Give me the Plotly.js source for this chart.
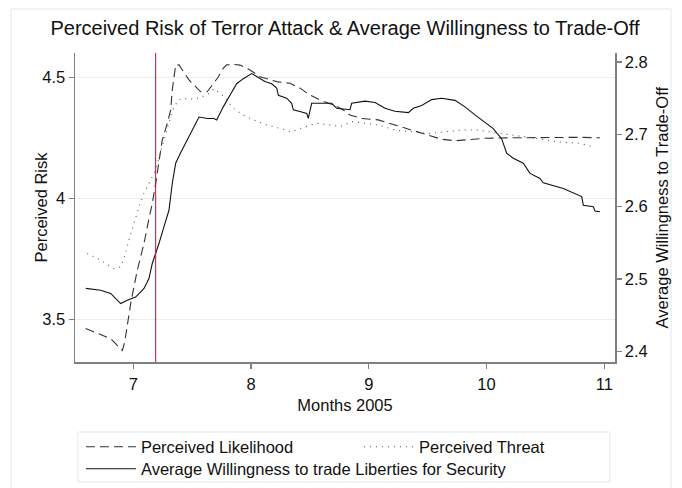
<!DOCTYPE html>
<html>
<head>
<meta charset="utf-8">
<script src="https://cdn.plot.ly/plotly-3.0.1.min.js"></script>
<style>html,body{margin:0;padding:0;background:#fff;}#chart{width:682px;height:488px;}</style>
</head>
<body>
<div id="chart"></div>
<script>
// Perceived Likelihood (left axis)
const likeX = [6.596, 6.681, 6.808, 6.864, 6.907, 6.927, 6.95, 6.978, 7.034, 7.091, 7.125, 7.161, 7.19, 7.218, 7.246, 7.289, 7.318, 7.331, 7.346, 7.36, 7.388, 7.416, 7.473, 7.53, 7.572, 7.628, 7.685, 7.72, 7.76, 7.793, 7.85, 7.906, 7.991, 8.076, 8.218, 8.331, 8.416, 8.5, 8.585, 8.699, 8.784, 8.84, 8.94, 9.081, 9.222, 9.364, 9.505, 9.619, 9.732, 9.874, 9.987, 10.2, 10.4, 10.6, 10.8, 10.963];
const likeY = [3.463, 3.445, 3.421, 3.394, 3.373, 3.407, 3.48, 3.566, 3.704, 3.814, 3.897, 3.979, 4.062, 4.158, 4.241, 4.31, 4.365, 4.448, 4.502, 4.551, 4.551, 4.53, 4.489, 4.461, 4.44, 4.44, 4.475, 4.50, 4.535, 4.551, 4.553, 4.55, 4.53, 4.502, 4.482, 4.475, 4.455, 4.427, 4.406, 4.386, 4.365, 4.344, 4.33, 4.324, 4.303, 4.282, 4.262, 4.244, 4.238, 4.244, 4.248, 4.25, 4.251, 4.252, 4.252, 4.25];

// Perceived Threat (left axis)
const threatX = [6.609, 6.723, 6.836, 6.893, 6.935, 6.963, 7.006, 7.048, 7.091, 7.133, 7.176, 7.22, 7.28, 7.33, 7.38, 7.416, 7.516, 7.628, 7.685, 7.75, 7.849, 7.934, 8.019, 8.133, 8.246, 8.345, 8.444, 8.558, 8.671, 8.755, 8.855, 8.968, 9.081, 9.222, 9.364, 9.505, 9.647, 9.789, 9.93, 10.114, 10.369, 10.596, 10.793, 10.907];
const threatY = [3.773, 3.745, 3.711, 3.717, 3.773, 3.828, 3.897, 3.965, 4.021, 4.062, 4.103, 4.17, 4.27, 4.36, 4.405, 4.413, 4.409, 4.427, 4.452, 4.43, 4.372, 4.344, 4.324, 4.303, 4.289, 4.275, 4.293, 4.31, 4.303, 4.296, 4.317, 4.31, 4.303, 4.282, 4.275, 4.268, 4.275, 4.282, 4.282, 4.268, 4.252, 4.234, 4.227, 4.213];

// Average Willingness to trade Liberties for Security (right axis)
const willX = [6.596, 6.723, 6.808, 6.893, 6.949, 7.02, 7.091, 7.133, 7.161, 7.19, 7.218, 7.26, 7.303, 7.331, 7.36, 7.4, 7.459, 7.516, 7.558, 7.628, 7.685, 7.708, 7.764, 7.821, 7.878, 7.934, 8.006, 8.048, 8.118, 8.175, 8.218, 8.232, 8.303, 8.345, 8.359, 8.43, 8.473, 8.486, 8.5, 8.515, 8.585, 8.685, 8.727, 8.784, 8.84, 8.855, 8.968, 9.053, 9.138, 9.222, 9.336, 9.378, 9.449, 9.534, 9.619, 9.732, 9.817, 9.902, 9.944, 10.057, 10.128, 10.171, 10.227, 10.312, 10.369, 10.454, 10.482, 10.596, 10.652, 10.808, 10.822, 10.907, 10.921, 10.963];
const willY = [2.487, 2.4844, 2.48, 2.466, 2.4706, 2.475, 2.487, 2.5006, 2.5214, 2.5352, 2.549, 2.572, 2.595, 2.632, 2.66, 2.674, 2.692, 2.71, 2.724, 2.722, 2.722, 2.72, 2.738, 2.754, 2.77, 2.777, 2.784, 2.78, 2.773, 2.77, 2.764, 2.754, 2.75, 2.743, 2.734, 2.731, 2.729, 2.722, 2.731, 2.743, 2.743, 2.743, 2.736, 2.735, 2.734, 2.743, 2.746, 2.744, 2.736, 2.732, 2.73, 2.736, 2.74, 2.748, 2.75, 2.747, 2.738, 2.727, 2.722, 2.708, 2.694, 2.674, 2.667, 2.66, 2.646, 2.639, 2.633, 2.627, 2.625, 2.614, 2.602, 2.6, 2.594, 2.593];

const eventMonth = 7.19; // July 7, 2005
const xTicks = [7, 8, 9, 10, 11];
const leftTicks = [3.5, 4, 4.5];
const rightTicks = [2.4, 2.5, 2.6, 2.7, 2.8];

const FONT = 'Liberation Sans, Arial, sans-serif';
const FS = 16.5;
const traces = [
  {x: likeX, y: likeY, type: 'scatter', mode: 'lines', name: 'Perceived Likelihood',
   line: {color: '#333333', width: 1.1, dash: '9px,5px'}, legend: 'legend'},
  {x: threatX, y: threatY, type: 'scatter', mode: 'lines', name: 'Perceived Threat',
   line: {color: '#555555', width: 1.1, dash: '1px,5px'}, legend: 'legend2'},
  {x: willX, y: willY, type: 'scatter', mode: 'lines', name: 'Average Willingness to trade Liberties for Security',
   line: {color: '#111111', width: 1.1}, yaxis: 'y2', legend: 'legend3'}
];

const legBase = {orientation: 'h', xanchor: 'left', yanchor: 'middle', borderwidth: 0,
  bgcolor: 'rgba(0,0,0,0)', itemwidth: 50, font: {family: FONT, size: FS, color: '#111'}};

const layout = {
  width: 682, height: 488,
  margin: {l: 75, r: 67, t: 53, b: 126, autoexpand: false},
  paper_bgcolor: '#ffffff', plot_bgcolor: '#ffffff',
  font: {family: FONT, size: FS, color: '#111'},
  title: {text: 'Perceived Risk of Terror Attack & Average Willingness to Trade-Off',
    font: {family: FONT, size: 20, color: '#111'}, x: 0.5, xanchor: 'center', y: 0.942, yanchor: 'middle', xref: 'paper'},
  xaxis: {range: [6.505, 11.091], tickvals: xTicks, ticktext: xTicks.map(String), automargin: false,
    showgrid: false, zeroline: false, showline: true, linecolor: '#808080', linewidth: 1.5,
    ticks: 'outside', ticklen: 5, tickcolor: '#808080', tickwidth: 1.2, ticklabelstandoff: 2,
    tickfont: {size: FS}, title: {text: 'Months 2005', font: {size: FS}, standoff: 7}},
  yaxis: {range: [3.325, 4.600], tickvals: leftTicks, ticktext: ['3.5', '4', '4.5'], automargin: false,
    showgrid: true, gridcolor: '#e6eeee', gridwidth: 1, zeroline: false,
    showline: true, linecolor: '#808080', linewidth: 1.5,
    ticks: 'outside', ticklen: 5, tickcolor: '#808080', tickwidth: 1.2,
    tickfont: {size: FS}},
  yaxis2: {range: [2.3852, 2.8125], tickvals: rightTicks, ticktext: rightTicks.map(v => v.toFixed(1)), automargin: false,
    overlaying: 'y', side: 'right', showgrid: false, zeroline: false,
    showline: true, linecolor: '#808080', linewidth: 1.5,
    ticks: 'outside', ticklen: 5, tickcolor: '#808080', tickwidth: 1.2,
    tickfont: {size: FS}},
  annotations: [
    {text: 'Perceived Risk', xref: 'paper', yref: 'paper', x: -0.0648, y: 0.5, textangle: -90,
     showarrow: false, xanchor: 'center', yanchor: 'middle', font: {size: FS, color: '#111'}},
    {text: 'Average Willingness to Trade-Off', xref: 'paper', yref: 'paper', x: 1.0852, y: 0.5, textangle: -90,
     showarrow: false, xanchor: 'center', yanchor: 'middle', font: {size: FS, color: '#111'}}
  ],
  showlegend: true,
  legend: Object.assign({}, legBase, {x: 0.011, y: -0.275}),
  legend2: Object.assign({}, legBase, {x: 0.526, y: -0.275}),
  legend3: Object.assign({}, legBase, {x: 0.011, y: -0.3463}),
  shapes: [
    {type: 'line', xref: 'x', yref: 'paper', x0: eventMonth, x1: eventMonth, y0: 0, y1: 1,
     line: {color: '#cc0a2f', width: 1}},
    {type: 'rect', xref: 'paper', yref: 'paper', x0: 0.0056, x1: 0.9907, y0: -0.3883, y1: -0.2265,
     line: {color: '#e2e9e9', width: 1}, fillcolor: 'rgba(0,0,0,0)'},
    {type: 'rect', xref: 'paper', yref: 'paper', x0: -0.1185, x1: 1.1037, y0: -0.42, y1: 1.1424,
     line: {color: '#e2e9e9', width: 1}, fillcolor: 'rgba(0,0,0,0)'}
  ]
};

Plotly.newPlot('chart', traces, layout, {displayModeBar: false, staticPlot: true});
</script>
</body>
</html>
